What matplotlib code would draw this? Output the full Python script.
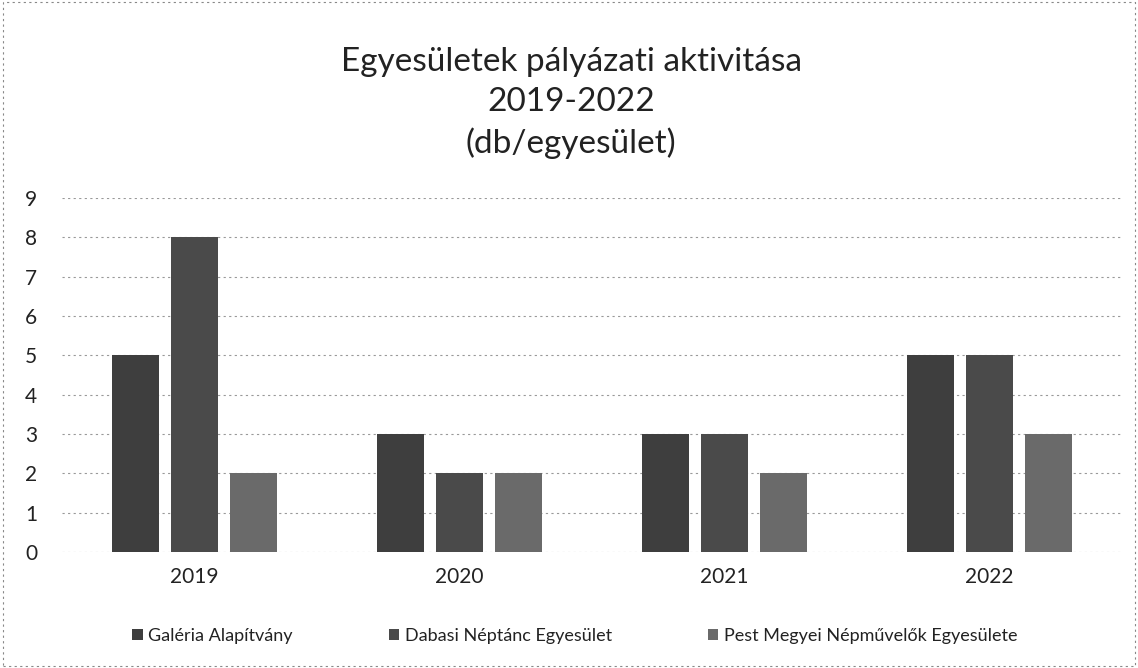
import numpy as np
import matplotlib.pyplot as plt

# Data
years = ['2019', '2020', '2021', '2022']
galeria = [5, 3, 3, 5]
dabasi = [8, 2, 3, 5]
pest = [2, 2, 2, 3]

series = [galeria, dabasi, pest]
labels = ['Galéria Alapítvány', 'Dabasi Néptánc Egyesület',
          'Pest Megyei Népművelők Egyesülete']
colors = ['#3e3e3e', '#4a4a4a', '#6a6a6a']

plt.rcParams['font.family'] = ['Lato', 'DejaVu Sans']

fig = plt.figure(figsize=(11.38, 6.68), dpi=100)
ax = fig.add_axes([0.0545, 0.1737, 0.9315, 0.53])

x = np.arange(len(years))
width = 0.177
offsets = [-0.222, 0.0, 0.222]

for vals, off, color, label in zip(series, offsets, colors, labels):
    ax.bar(x + off, vals, width, color=color, label=label, zorder=3)

ax.set_xlim(-0.5, len(years) - 0.5)
ax.set_ylim(0, 9)
ax.set_yticks(range(0, 10))
ax.set_xticks(x)
ax.set_xticklabels(years)
ax.tick_params(axis='both', length=0, labelsize=15, colors='#222222')
ax.tick_params(axis='y', pad=18)
ax.tick_params(axis='x', pad=11)
ax.grid(axis='y', color='#999999', linestyle=(0, (2, 3)), linewidth=0.8, zorder=0)
for s in ax.spines.values():
    s.set_visible(False)

fig.text(0.502, 0.846, 'Egyesületek pályázati aktivitása\n2019-2022\n(db/egyesület)',
         ha='center', va='center', fontsize=24, color='#222222', linespacing=1.4)

fig.legend(loc='center', bbox_to_anchor=(0.505, 0.048), ncol=3, frameon=False,
           fontsize=13, handlelength=0.6, handleheight=0.6, handletextpad=0.3,
           columnspacing=5.3, labelcolor='#222222')

# dashed border of the scanned chart frame
fig.patches.append(plt.Rectangle((0.003, 0.003), 0.994, 0.994, transform=fig.transFigure,
                                 fill=False, edgecolor='#888888', linestyle=(0, (2, 3)),
                                 linewidth=0.8))

fig.savefig('out.png', dpi=100)
